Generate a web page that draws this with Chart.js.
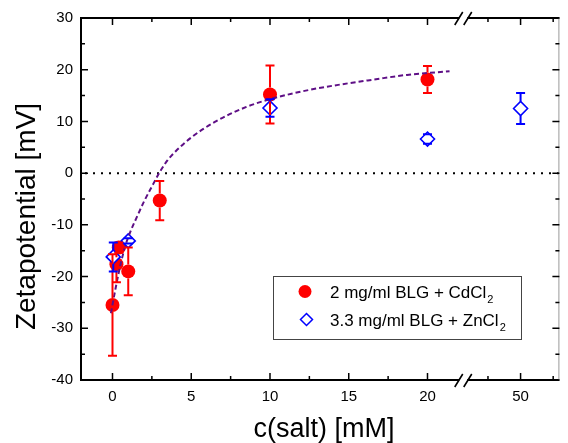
<!DOCTYPE html>
<html>
<head>
<meta charset="utf-8">
<title>Zetapotential vs c(salt)</title>
<script src="https://cdn.jsdelivr.net/npm/chart.js@4.4.1/dist/chart.umd.min.js"></script>
<style>
	html, body { margin: 0; padding: 0; background: #fff; }
	#wrap { position: relative; width: 568px; height: 443px; }
</style>
</head>
<body>
<div id="wrap"><canvas id="zeta"></canvas></div>
<script>
(function () {
	'use strict';

	/*
	| Data
	*/

	// 2 mg/ml BLG + CdCl2
	var CD_X   = [0, 0.25, 0.4, 1, 3, 10, 20];
	var CD_Y   = [-25.5, -17.6, -14.4, -19.0, -5.3, 15.2, 18.1];
	var CD_ERR = [9.8, 3.5, 1.0, 4.6, 3.8, 5.6, 2.6];

	// 3.3 mg/ml BLG + ZnCl2
	var ZN_X   = [0.05, 1, 10, 20, 50];
	var ZN_Y   = [-16.2, -13.1, 12.6, 6.6, 12.5];
	var ZN_ERR = [2.8, 0.5, 1.7, 0.9, 3.0];

	// dashed fit curve
	var FIT_X = [-0.1, 0.2, 0.5, 0.8, 1.1, 1.5, 2, 2.5, 3, 3.5, 4, 5, 6.5, 8.5, 10, 12.5, 14.6, 16.6, 18.7, 21.4];
	var FIT_Y = [-27.1, -22.2, -17.8, -14.2, -11.6, -8.8, -5.5, -2.6, 0.2, 2.5, 4.2, 6.9, 9.9, 12.8, 14.3, 16.1, 17.2, 18.1, 19.0, 19.7];

	var X_TICKS  = [0, 5, 10, 15, 20, 50];
	var X_LABELS = ['0', '5', '10', '15', '20', '50'];
	var X_MINOR  = [2.5, 7.5, 12.5, 17.5, 47.5, 52.5];
	var Y_TICKS  = [-40, -30, -20, -10, 0, 10, 20, 30];
	var Y_MINOR  = [-35, -25, -15, -5, 5, 15, 25];

	var LEGEND = [
		{ text: '2 mg/ml BLG + CdCl', sub: '2' },
		{ text: '3.3 mg/ml BLG + ZnCl', sub: '2' },
	];

	/*
	| Broken x axis: 0..20 linear, then a jump to the 50 mM point
	*/

	var POS_50   = 25.91;  // axis position used for 50 mM
	var POST_K   = 0.828;  // axis units per mM after the break
	var BREAK_AT = 22.27;  // where the // marks sit

	function axisX(v) {
		return v >= 40 ? POS_50 + (v - 50) * POST_K : v;
	}

	function points(xs, ys) {
		return xs.map(function (x, i) { return { x: axisX(x), y: ys[i] }; });
	}

	var FONT  = "'Liberation Sans', Arial, Helvetica, sans-serif";
	var RED   = '#ff0000';
	var BLUE  = '#0000ff';
	var FITC  = '#5e0f86';

	/*
	| Plugins
	*/

	var zeroLine = {
		id: 'zeroLine',
		beforeDatasetsDraw: function (chart) {
			var ctx = chart.ctx, a = chart.chartArea;
			var y = chart.scales.y.getPixelForValue(0);
			ctx.save();
			ctx.strokeStyle = '#000';
			ctx.lineWidth = 2;
			ctx.setLineDash([2, 6]);
			ctx.beginPath();
			ctx.moveTo(a.left + 4, y);
			ctx.lineTo(a.right, y);
			ctx.stroke();
			ctx.restore();
		},
	};

	var errorBars = {
		id: 'errorBars',
		afterDatasetsDraw: function (chart) {
			var ctx = chart.ctx;
			var ys = chart.scales.y;
			var sets = [
				{ idx: 1, err: CD_ERR, ys: CD_Y, color: RED,  r: 7 },
				{ idx: 2, err: ZN_ERR, ys: ZN_Y, color: BLUE, r: 7 },
			];
			ctx.save();
			ctx.lineWidth = 2;
			sets.forEach(function (s) {
				var meta = chart.getDatasetMeta(s.idx);
				ctx.strokeStyle = s.color;
				meta.data.forEach(function (pt, j) {
					var x = pt.x, cy = pt.y;
					var top = ys.getPixelForValue(s.ys[j] + s.err[j]);
					var bot = ys.getPixelForValue(s.ys[j] - s.err[j]);
					ctx.beginPath();
					if (top < cy - s.r) { ctx.moveTo(x, cy - s.r); ctx.lineTo(x, top); }
					if (bot > cy + s.r) { ctx.moveTo(x, cy + s.r); ctx.lineTo(x, bot); }
					ctx.moveTo(x - 4.5, top); ctx.lineTo(x + 4.5, top);
					ctx.moveTo(x - 4.5, bot); ctx.lineTo(x + 4.5, bot);
					ctx.stroke();
				});
			});
			ctx.restore();
		},
	};

	var frame = {
		id: 'frame',
		afterDraw: function (chart) {
			var ctx = chart.ctx, a = chart.chartArea;
			var xs = chart.scales.x, ys = chart.scales.y;

			ctx.save();
			// box
			ctx.strokeStyle = '#000';
			ctx.lineWidth = 2;
			ctx.beginPath();
			ctx.moveTo(a.right, a.top);
			ctx.lineTo(a.left, a.top);
			ctx.lineTo(a.left, a.bottom);
			ctx.lineTo(a.right, a.bottom);
			ctx.stroke();
			ctx.strokeStyle = '#9a9a9a';
			ctx.lineWidth = 1;
			ctx.beginPath();
			ctx.moveTo(a.right - 0.5, a.top);
			ctx.lineTo(a.right - 0.5, a.bottom);
			ctx.stroke();

			// ticks, pointing inward on all four sides
			ctx.strokeStyle = '#000';
			ctx.lineWidth = 1.5;
			ctx.beginPath();
			function xt(v, len) {
				var px = xs.getPixelForValue(axisX(v));
				ctx.moveTo(px, a.bottom); ctx.lineTo(px, a.bottom - len);
				ctx.moveTo(px, a.top);    ctx.lineTo(px, a.top + len);
			}
			function yt(v, len) {
				var py = ys.getPixelForValue(v);
				ctx.moveTo(a.left, py);  ctx.lineTo(a.left + len, py);
				ctx.moveTo(a.right, py); ctx.lineTo(a.right - len, py);
			}
			X_TICKS.forEach(function (v) { xt(v, 7); });
			X_MINOR.forEach(function (v) { xt(v, 4); });
			Y_TICKS.forEach(function (v) { yt(v, 7); });
			Y_MINOR.forEach(function (v) { yt(v, 4); });
			ctx.stroke();

			// axis break marks
			var bx = xs.getPixelForValue(BREAK_AT);
			[a.top, a.bottom].forEach(function (by) {
				ctx.fillStyle = '#fff';
				ctx.fillRect(bx - 4, by - 2, 8, 4);
				ctx.strokeStyle = '#000';
				ctx.lineWidth = 1.6;
				ctx.beginPath();
				ctx.moveTo(bx - 8.5, by + 7); ctx.lineTo(bx - 0.5, by - 6);
				ctx.moveTo(bx + 0.5, by + 7); ctx.lineTo(bx + 8.5, by - 6);
				ctx.stroke();
			});

			// axis titles
			ctx.fillStyle = '#000';
			ctx.font = '27px ' + FONT;
			ctx.textAlign = 'center';
			ctx.textBaseline = 'alphabetic';
			ctx.fillText('c(salt) [mM]', 324, 437);
			ctx.translate(35, 216.5);
			ctx.rotate(-Math.PI / 2);
			ctx.font = '28px ' + FONT;
			ctx.fillText('Zetapotential [mV]', 0, 0);
			ctx.restore();

			// legend
			ctx.save();
			ctx.fillStyle = '#fff';
			ctx.fillRect(273.5, 276.5, 248, 63);
			ctx.strokeStyle = '#444';
			ctx.lineWidth = 1;
			ctx.strokeRect(273.5, 276.5, 248, 63);

			ctx.fillStyle = RED;
			ctx.beginPath();
			ctx.arc(305, 291.5, 6.5, 0, Math.PI * 2);
			ctx.fill();

			ctx.strokeStyle = BLUE;
			ctx.lineWidth = 1.5;
			ctx.beginPath();
			ctx.moveTo(306.5, 313.5); ctx.lineTo(312.5, 319.5);
			ctx.lineTo(306.5, 325.5); ctx.lineTo(300.5, 319.5);
			ctx.closePath();
			ctx.stroke();

			ctx.fillStyle = '#000';
			ctx.textAlign = 'left';
			ctx.textBaseline = 'alphabetic';
			[297.5, 325.5].forEach(function (by, i) {
				ctx.font = '17px ' + FONT;
				ctx.fillText(LEGEND[i].text, 330, by);
				var w = ctx.measureText(LEGEND[i].text).width;
				ctx.font = '11px ' + FONT;
				ctx.fillText(LEGEND[i].sub, 330 + w + 1, by + 5);
			});
			ctx.restore();
		},
	};

	/*
	| Chart
	*/

	new Chart(document.getElementById('zeta'), {
		type: 'scatter',
		data: {
			datasets: [
				{
					type: 'line',
					label: 'fit',
					data: points(FIT_X, FIT_Y),
					borderColor: FITC,
					borderWidth: 2,
					borderDash: [5, 3],
					pointRadius: 0,
					cubicInterpolationMode: 'monotone',
					fill: false,
					order: 0,
				},
				{
					label: LEGEND[0].text + LEGEND[0].sub,
					data: points(CD_X, CD_Y),
					pointStyle: 'circle',
					pointRadius: 7,
					backgroundColor: RED,
					borderColor: RED,
					borderWidth: 0,
					order: 2,
				},
				{
					label: LEGEND[1].text + LEGEND[1].sub,
					data: points(ZN_X, ZN_Y),
					pointStyle: 'rectRot',
					pointRadius: 7,
					backgroundColor: '#fff',
					borderColor: BLUE,
					borderWidth: 1.6,
					order: 1,
				},
			],
		},
		options: {
			responsive: true,
			maintainAspectRatio: false,
			animation: false,
			events: [],
			layout: { padding: { top: 18, right: 1, left: 0, bottom: 0 } },
			plugins: {
				legend: { display: false },
				tooltip: { enabled: false },
			},
			scales: {
				x: {
					type: 'linear',
					min: -2,
					max: 28.375,
					grid: { display: false, drawTicks: false, tickLength: 0 },
					border: { display: false },
					afterBuildTicks: function (scale) {
						scale.ticks = X_TICKS.map(function (v) { return { value: axisX(v) }; });
					},
					afterFit: function (scale) { scale.height = 63; },
					ticks: {
						padding: 8,
						color: '#000',
						font: { family: FONT, size: 15 },
						maxRotation: 0,
						autoSkip: false,
						callback: function (value, i) { return X_LABELS[i]; },
					},
				},
				y: {
					min: -40,
					max: 30,
					grid: { display: false, drawTicks: false, tickLength: 0 },
					border: { display: false },
					afterBuildTicks: function (scale) {
						scale.ticks = Y_TICKS.map(function (v) { return { value: v }; });
					},
					afterFit: function (scale) { scale.width = 81; },
					ticks: {
						padding: 8,
						color: '#000',
						font: { family: FONT, size: 15 },
						callback: function (value) { return String(value); },
					},
				},
			},
		},
		plugins: [zeroLine, errorBars, frame],
	});

})();
</script>
</body>
</html>
